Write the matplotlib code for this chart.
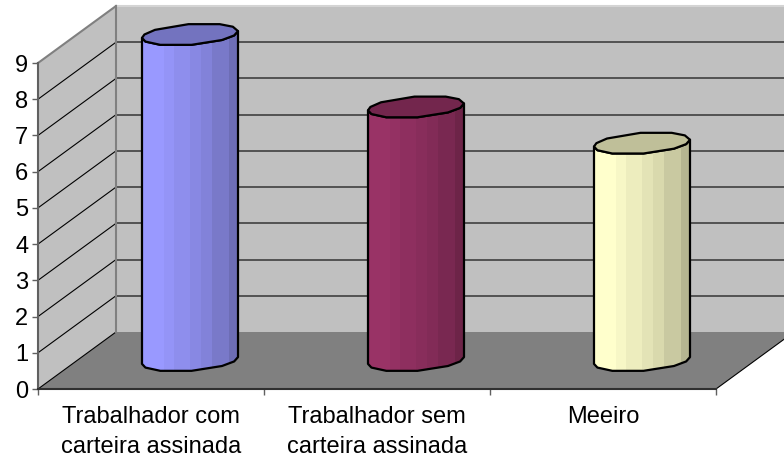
import numpy as np
import matplotlib
matplotlib.use("Agg")
import matplotlib.pyplot as plt
from matplotlib.patches import Polygon

plt.rcParams['font.family'] = ['Liberation Sans', 'DejaVu Sans']

categorias = ['Trabalhador com\ncarteira assinada', 'Trabalhador sem\ncarteira assinada', 'Meeiro']
valores = [9, 7, 6]
cores = ['#9999FF', '#993366', '#FFFFCC']
ticks_y = [0, 1, 2, 3, 4, 5, 6, 7, 8, 9]

W, H = 784, 463
# tamanho de uma unidade em pixels
px_x = 678 / 3
px_y = 326 / 9
depth_x = 78 / px_x
depth_y = 57 / px_y

fig = plt.figure(figsize=(W / 100, H / 100), dpi=100, facecolor='white')
ax = fig.add_axes([38 / W, (H - 389) / H, 678 / W, 326 / H])
ax.set_xlim(0, 3)
ax.set_ylim(0, 9)
ax.patch.set_visible(False)
for s in ax.spines.values():
    s.set_visible(False)

n = len(categorias)
ymax = ticks_y[-1]

# paredes e chao
ax.add_patch(Polygon([(0, 0), (depth_x, depth_y), (depth_x, depth_y + ymax), (0, ymax)],
                     fc='#C0C0C0', ec='none', clip_on=False, zorder=1))
ax.add_patch(Polygon([(depth_x, depth_y), (n + depth_x, depth_y), (n + depth_x, depth_y + ymax), (depth_x, depth_y + ymax)],
                     fc='#C0C0C0', ec='none', clip_on=False, zorder=1))
ax.add_patch(Polygon([(0, 0), (n, 0), (n + depth_x, depth_y), (depth_x, depth_y)],
                     fc='#808080', ec='none', clip_on=False, zorder=1))

# grade
for t in ticks_y[1:-1]:
    ax.plot([0, depth_x], [t, t + depth_y], color='black', lw=0.8, clip_on=False, zorder=2)
    ax.plot([depth_x, n + depth_x], [t + depth_y, t + depth_y], color='#404040', lw=1.2, clip_on=False, zorder=2)
ax.plot([0, depth_x], [0, depth_y], color='black', lw=0.8, clip_on=False, zorder=2)
ax.plot([n, n + depth_x], [0, depth_y], color='black', lw=0.8, clip_on=False, zorder=2)
ax.plot([0, depth_x], [ymax, ymax + depth_y], color='#808080', lw=1.5, clip_on=False, zorder=2)
ax.plot([depth_x, n + depth_x], [ymax + depth_y, ymax + depth_y], color='#D4D4D4', lw=1.5, clip_on=False, zorder=2)
ax.plot([depth_x, depth_x], [depth_y, ymax + depth_y], color='#808080', lw=1.5, clip_on=False, zorder=2)
ax.plot([0, 0], [0, ymax], color='#606060', lw=1.5, clip_on=False, zorder=3)
ax.plot([0, n], [0, 0], color='#303030', lw=1.5, clip_on=False, zorder=3)

# cilindros
ang_frente = np.radians([198, 220, 250, 290, 330, 355, 378])
ang_tras = np.radians([378, 405, 430, 470, 515, 540, 558])
faixas = np.array([-48, -26, -16, 0, 11, 22, 39, 48]) / px_x
brilho = [1.0, 0.97, 0.93, 0.89, 0.85, 0.79, 0.71]


def borda(ang, cx, cy):
    x = cx + (45.6 * np.cos(ang) + 15 * np.sin(ang)) / px_x
    y = cy + 11 * np.sin(ang) / px_y
    return np.column_stack([x, y])


for i, (v, cor) in enumerate(zip(valores, cores)):
    cx = i + 0.5 + depth_x / 2
    cy = depth_y / 2
    base = np.array(matplotlib.colors.to_rgb(cor))
    frente_base = borda(ang_frente, cx, cy)
    frente_topo = borda(ang_frente, cx, cy + v)
    corpo = np.vstack([frente_base, frente_topo[::-1]])
    molde = Polygon(corpo, fc='none', ec='none', clip_on=False, transform=ax.transData)
    ax.add_patch(molde)
    for j, b in enumerate(brilho):
        faixa = ax.fill_between([cx + faixas[j], cx + faixas[j + 1]], cy - 1, cy + v + 1,
                                color=base * b, lw=0, zorder=4)
        faixa.set_clip_path(molde)
    ax.add_patch(Polygon(corpo, fc='none', ec='black', lw=1.6, clip_on=False, zorder=5, joinstyle='round'))
    topo = np.vstack([borda(ang_frente, cx, cy + v), borda(ang_tras, cx, cy + v)])
    ax.add_patch(Polygon(topo, fc=base * 0.75, ec='black', lw=1.6, clip_on=False, zorder=6, joinstyle='round'))

# eixos
ax.set_yticks(ticks_y)
ax.set_xticks(range(n + 1))
ax.set_xticklabels([])
ax.set_xticks([i + 0.5 for i in range(n)], minor=True)
ax.set_xticklabels(categorias, minor=True, fontsize=17, linespacing=1.48, color='black')
ax.tick_params(axis='x', which='major', length=4.5, width=1, color='#606060')
ax.tick_params(axis='x', which='minor', length=0, pad=12)
ax.tick_params(axis='y', length=4, width=1, color='#606060', labelsize=17, pad=3)

fig.savefig('out.png', dpi=100, facecolor='white')
